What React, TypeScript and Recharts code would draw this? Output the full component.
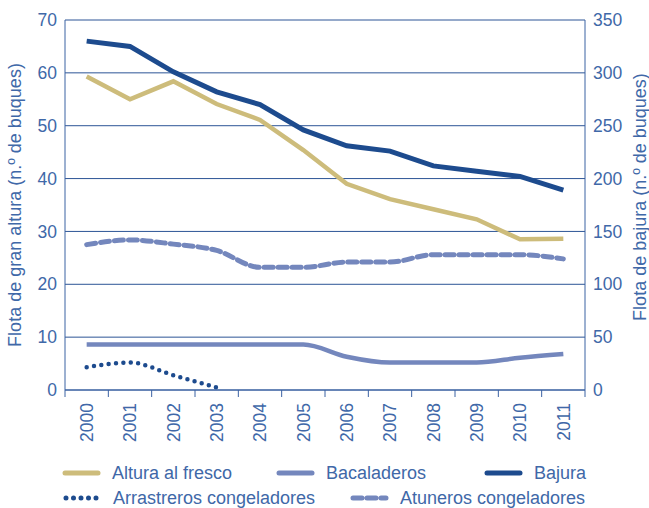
import { LineChart, Line, XAxis, YAxis, CartesianGrid } from 'recharts'

document.body.style.margin = '0'

const years = ['2000', '2001', '2002', '2003', '2004', '2005', '2006', '2007', '2008', '2009', '2010', '2011']
const alturaFresco = [59.3, 55, 58.4, 54.1, 51.1, 45.4, 39, 36.1, 34.2, 32.3, 28.5, 28.6]
const bacaladeros = [8.6, 8.6, 8.6, 8.6, 8.6, 8.6, 6.3, 5.2, 5.2, 5.2, 6.1, 6.8]
const arrastreros: (number | null)[] = [4.3, 5.2, 2.8, 0.5, null, null, null, null, null, null, null, null]
const atuneros = [27.5, 28.4, 27.6, 26.4, 23.2, 23.2, 24.2, 24.2, 25.6, 25.6, 25.6, 24.8]
const bajura = [330, 325, 301, 282, 270, 246, 231, 226, 212, 207, 202, 189]

const leftTicks = [0, 10, 20, 30, 40, 50, 60, 70]
const rightTicks = [0, 50, 100, 150, 200, 250, 300, 350]
const bandTicks = [0, 1, 2, 3, 4, 5, 6, 7, 8, 9, 10, 11, 12]

const data = years.map((y, i) => ({
  x: i + 0.5,
  year: y,
  altura: alturaFresco[i],
  bacaladeros: bacaladeros[i],
  arrastreros: arrastreros[i],
  atuneros: atuneros[i],
  bajura: bajura[i],
}))

const TEXT = '#4068a8'
const AXIS = '#3b62a3'
const GRID = '#2c5596'
const FONT = '"Liberation Sans", Arial, sans-serif'
const TAN = '#cdbc7b'
const LIGHT = '#7487bd'
const DARK = '#1d4b8e'

const W = 649
const H = 508
const PLOT_LEFT = 65
const PLOT_RIGHT = 585
const BAND = (PLOT_RIGHT - PLOT_LEFT) / years.length

function YearTick(props: any) {
  const { x, y, payload } = props
  const i = payload.value
  if (i >= years.length) return <g />
  const cx = x + BAND / 2
  const ty = y + 4
  return (
    <text
      x={cx}
      y={ty}
      dy="0.36em"
      textAnchor="end"
      transform={`rotate(-90, ${cx}, ${ty})`}
      fill={TEXT}
      fontSize={17.5}
      fontFamily={FONT}
    >
      {years[i]}
    </text>
  )
}

const legendRows = [
  { label: 'Altura al fresco', color: TAN, dash: undefined, x: 63, y: 473 },
  { label: 'Bacaladeros', color: LIGHT, dash: undefined, x: 277, y: 473 },
  { label: 'Bajura', color: DARK, dash: undefined, x: 485, y: 473 },
  { label: 'Arrastreros congeladores', color: DARK, dash: '0 7.5', x: 64, y: 498 },
  { label: 'Atuneros congeladores', color: LIGHT, dash: '9 5', x: 351, y: 498 },
]

export default function App() {
  return (
    <div style={{ position: 'relative', width: W, height: H, background: '#fff' }}>
      <LineChart width={W} height={H} data={data} margin={{ top: 20, right: 0, left: 0, bottom: 58 }}>
        <CartesianGrid vertical={false} stroke={GRID} strokeWidth={1} yAxisId="left" horizontalValues={leftTicks} />
        <XAxis
          dataKey="x"
          type="number"
          domain={[0, 12]}
          ticks={bandTicks}
          interval={0}
          height={60}
          stroke={AXIS}
          tickSize={7}
          tick={<YearTick />}
        />
        <YAxis
          yAxisId="left"
          domain={[0, 70]}
          ticks={leftTicks}
          width={65}
          stroke={AXIS}
          tickLine={false}
          tick={{ fill: TEXT, fontSize: 17.5, fontFamily: FONT }}
          label={{
            value: 'Flota de gran altura (n.º de buques)',
            angle: -90,
            position: 'insideLeft',
            dx: 10,
            dy: 0,
            style: { textAnchor: 'middle', fill: TEXT, fontSize: 18, fontFamily: FONT },
          }}
        />
        <YAxis
          yAxisId="right"
          orientation="right"
          domain={[0, 350]}
          ticks={rightTicks}
          width={64}
          stroke={AXIS}
          tickLine={false}
          tick={{ fill: TEXT, fontSize: 17.5, fontFamily: FONT }}
          label={{
            value: 'Flota de bajura (n.º de buques)',
            angle: -90,
            position: 'insideRight',
            dx: -4,
            dy: -8,
            style: { textAnchor: 'middle', fill: TEXT, fontSize: 18, fontFamily: FONT },
          }}
        />
        <Line yAxisId="left" type="linear" dataKey="altura" stroke={TAN} strokeWidth={4.5} dot={false} isAnimationActive={false} />
        <Line yAxisId="left" type="monotone" dataKey="bacaladeros" stroke={LIGHT} strokeWidth={4.5} dot={false} isAnimationActive={false} />
        <Line
          yAxisId="left"
          type="monotone"
          dataKey="atuneros"
          stroke={LIGHT}
          strokeWidth={5}
          strokeDasharray="9 5"
          strokeLinecap="round"
          dot={false}
          isAnimationActive={false}
        />
        <Line
          yAxisId="left"
          type="monotone"
          dataKey="arrastreros"
          stroke={DARK}
          strokeWidth={4.5}
          strokeDasharray="0 7.4"
          strokeLinecap="round"
          dot={false}
          isAnimationActive={false}
        />
        <Line yAxisId="right" type="linear" dataKey="bajura" stroke={DARK} strokeWidth={5} dot={false} isAnimationActive={false} />
      </LineChart>
      <svg width={W} height={H} style={{ position: 'absolute', left: 0, top: 0, pointerEvents: 'none' }}>
        {legendRows.map((r) => (
          <g key={r.label}>
            <line
              x1={r.x + 2}
              x2={r.x + 35}
              y1={r.y}
              y2={r.y}
              stroke={r.color}
              strokeWidth={5}
              strokeLinecap="round"
              strokeDasharray={r.dash}
            />
            <text x={r.x + 49} y={r.y} dy="0.36em" fill={TEXT} fontSize={18} fontFamily={FONT}>
              {r.label}
            </text>
          </g>
        ))}
      </svg>
    </div>
  )
}
